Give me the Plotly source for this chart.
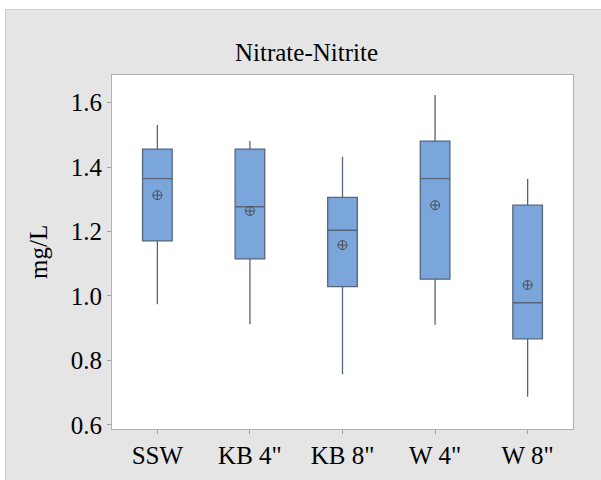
import plotly.graph_objects as go

# Sampling sites and their nitrate-nitrite summaries (mg/L)
sites = ['SSW', 'KB 4"', 'KB 8"', 'W 4"', 'W 8"']
whisker_low = [0.974, 0.912, 0.757, 0.911, 0.687]
q1 = [1.171, 1.115, 1.029, 1.052, 0.867]
median = [1.364, 1.277, 1.204, 1.364, 0.979]
q3 = [1.456, 1.456, 1.306, 1.481, 1.282]
whisker_high = [1.531, 1.481, 1.432, 1.624, 1.363]
mean = [1.313, 1.264, 1.158, 1.282, 1.034]

y_ticks = [0.6, 0.8, 1.0, 1.2, 1.4, 1.6]

# Frame geometry in pixels
W, H = 601, 480
L, R, T, B = 112, 573, 75, 429
pw, ph = R - L, B - T


def px_x(p):
    return (p - L) / pw


def px_y(p):
    return (B - p) / ph


FONT = "Liberation Serif"
PANEL = "#e5e5e5"

fig = go.Figure()

fig.add_trace(go.Box(
    x=sites,
    q1=q1, median=median, q3=q3,
    lowerfence=whisker_low, upperfence=whisker_high,
    width=0.32,
    whiskerwidth=0,
    fillcolor="#7ba6db",
    line=dict(color="#58647a", width=1.3),
    boxpoints=False,
    hoverinfo="skip",
    showlegend=False,
))

fig.add_trace(go.Scatter(
    x=sites, y=mean,
    mode="markers",
    marker=dict(symbol="circle-cross-open", size=9,
                color="#4d4d4d", line=dict(width=1)),
    showlegend=False,
    hoverinfo="skip",
))

shapes = [
    # white strips outside the gray panel
    dict(type="rect", xref="paper", yref="paper", layer="above",
         x0=px_x(-5), x1=px_x(W + 5), y0=px_y(9), y1=px_y(-5),
         fillcolor="white", line=dict(width=0)),
    dict(type="rect", xref="paper", yref="paper", layer="above",
         x0=px_x(-5), x1=px_x(5), y0=px_y(H + 5), y1=px_y(-5),
         fillcolor="white", line=dict(width=0)),
    # thin outline of the gray panel
    dict(type="line", xref="paper", yref="paper", layer="above",
         x0=px_x(5.5), x1=px_x(W + 5), y0=px_y(9.5), y1=px_y(9.5),
         line=dict(color="#cccccc", width=1)),
    dict(type="line", xref="paper", yref="paper", layer="above",
         x0=px_x(5.5), x1=px_x(5.5), y0=px_y(9.5), y1=px_y(H + 5),
         line=dict(color="#cccccc", width=1)),
]

annotations = [
    dict(text="Nitrate-Nitrite", xref="paper", yref="paper",
         x=px_x(306), y=px_y(52), xanchor="center", yanchor="middle",
         showarrow=False, font=dict(family=FONT, size=25, color="black")),
    dict(text="mg/L", xref="paper", yref="paper",
         x=px_x(38), y=0.5, xanchor="center", yanchor="middle",
         textangle=-90, showarrow=False,
         font=dict(family=FONT, size=25, color="black")),
]

fig.update_layout(
    width=W, height=H,
    margin=dict(l=L, r=W - R, t=T, b=H - B, pad=0),
    paper_bgcolor=PANEL,
    plot_bgcolor="white",
    font=dict(family=FONT, size=25, color="black"),
    shapes=shapes,
    annotations=annotations,
    showlegend=False,
)

fig.update_xaxes(
    type="category",
    range=[-0.49, 4.49],
    showgrid=False, zeroline=False,
    showline=True, linecolor="#b3b3b3", linewidth=1, mirror=True,
    ticks="outside", ticklen=4, tickcolor="#a0a0a0", tickwidth=1,
    tickfont=dict(family=FONT, size=25, color="black"),
)

fig.update_yaxes(
    range=[0.587, 1.686],
    tickvals=y_ticks,
    ticktext=[f"{v:.1f}" for v in y_ticks],
    showgrid=False, zeroline=False,
    showline=True, linecolor="#b3b3b3", linewidth=1, mirror=True,
    ticks="outside", ticklen=4, tickcolor="#a0a0a0", tickwidth=1,
    tickfont=dict(family=FONT, size=25, color="black"),
)

fig.write_html("out.html")
